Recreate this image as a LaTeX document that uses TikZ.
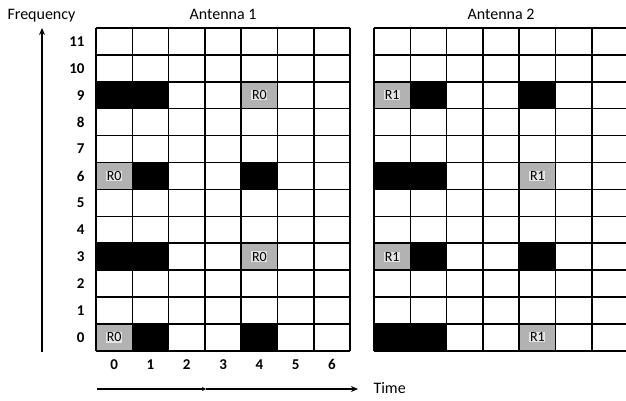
\documentclass[tikz,border=0pt]{standalone}
\usepackage{fontspec}
\setmainfont{Carlito}
\usetikzlibrary{arrows.meta}
\begin{document}
\begin{tikzpicture}[x=1pt,y=-1pt,
  gridline/.style={line width=1.6pt},
  busy/.style={fill=black},
  refsig/.style={fill=gray!60},
  reflabel/.style={fill=gray!22,inner sep=0.6pt,font=\fontsize{14}{14}\selectfont},
  numlabel/.style={font=\fontsize{15}{15}\selectfont\bfseries},
  titlelabel/.style={font=\fontsize{16}{16}\selectfont},
  axisarrow/.style={line width=1.3pt,-{Stealth[length=7pt,width=6pt]}},
  smallarrow/.style={line width=1.3pt,-{Stealth[length=4pt,width=4pt]}}]
\useasboundingbox (0,0) rectangle (626,401);
\def\cw{36.3}
\def\rh{26.9}
% ---------- Antenna 1 ----------
\begin{scope}[shift={(96,28)}]
  \foreach \c/\r in {0/9,1/9,1/6,4/6,0/3,1/3,1/0,4/0}
    \fill[busy] ({\c*\cw},{(11-\r)*\rh}) rectangle ++(\cw,\rh);
  \foreach \c/\r in {4/9,0/6,4/3,0/0}{
    \fill[refsig] ({\c*\cw},{(11-\r)*\rh}) rectangle ++(\cw,\rh);
    \node[reflabel] (a1r\c\r) at ({(\c+0.5)*\cw},{(11-\r+0.5)*\rh}) {R0};}
  \foreach \i in {0,...,7}
    \draw[gridline] ({\i*\cw},0) -- ({\i*\cw},{12*\rh});
  \foreach \j in {0,...,12}
    \draw[gridline] (0,{\j*\rh}) -- ({7*\cw},{\j*\rh});
  \foreach \r in {0,...,11}
    \node[numlabel,anchor=east] (row\r) at (-8,{(11-\r+0.5)*\rh}) {\r};
  \foreach \c in {0,...,6}
    \node[numlabel] (col\c) at ({(\c+0.5)*\cw},{12*\rh+14}) {\c};
  \node[titlelabel] (ant1) at ({3.5*\cw},-14) {Antenna 1};
\end{scope}
% ---------- Antenna 2 ----------
\begin{scope}[shift={(374,28)}]
  \foreach \c/\r in {1/9,4/9,0/6,1/6,1/3,4/3,0/0,1/0}
    \fill[busy] ({\c*\cw},{(11-\r)*\rh}) rectangle ++(\cw,\rh);
  \foreach \c/\r in {0/9,4/6,0/3,4/0}{
    \fill[refsig] ({\c*\cw},{(11-\r)*\rh}) rectangle ++(\cw,\rh);
    \node[reflabel] (a2r\c\r) at ({(\c+0.5)*\cw},{(11-\r+0.5)*\rh}) {R1};}
  \foreach \i in {0,...,7}
    \draw[gridline] ({\i*\cw},0) -- ({\i*\cw},{12*\rh});
  \foreach \j in {0,...,12}
    \draw[gridline] (0,{\j*\rh}) -- ({7*\cw},{\j*\rh});
  \node[titlelabel] (ant2) at ({3.5*\cw},-14) {Antenna 2};
\end{scope}
% ---------- axes ----------
\node[titlelabel,anchor=west] (freq) at (4,16) {Frequency};
\coordinate (fbot) at (42,352);
\coordinate (ftop) at (42,28);
\draw[axisarrow] (fbot) -- (ftop);
\coordinate (t0) at (97,389);
\coordinate (tmid) at (206,389);
\coordinate (t1) at (358,389);
\draw[smallarrow] (t0) -- (tmid);
\draw[axisarrow] (tmid) -- (t1);
\node[titlelabel,anchor=west] (time) at (370,388) {Time};
\end{tikzpicture}
\end{document}
